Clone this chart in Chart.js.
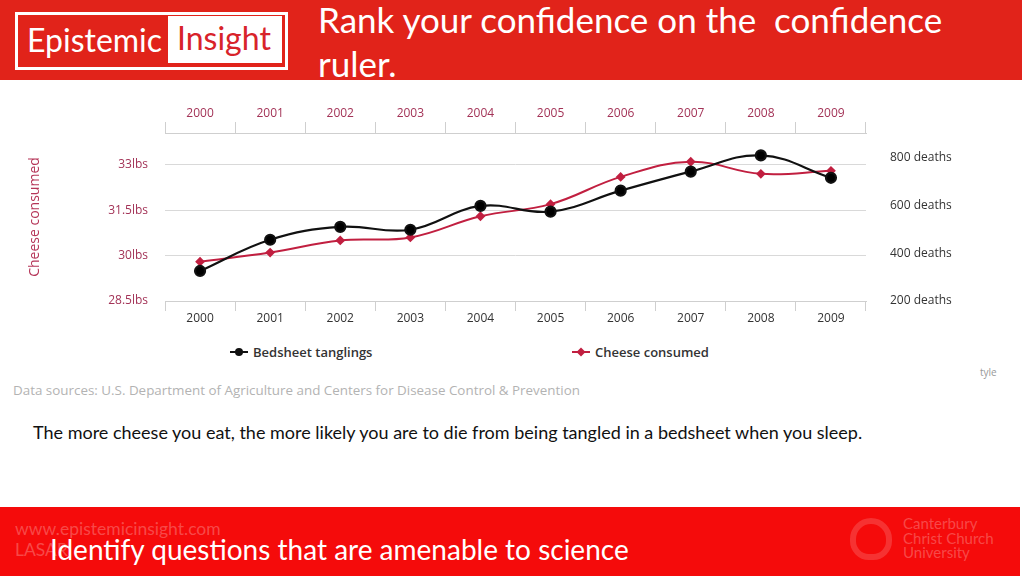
<!DOCTYPE html>
<html>
<head>
<meta charset="utf-8">
<script src="https://cdn.jsdelivr.net/npm/chart.js@4.4.1/dist/chart.umd.min.js"></script>
<style>
  html, body { margin: 0; padding: 0; }
  body { width: 1024px; height: 576px; position: relative; overflow: hidden; background: #fff; font-family: Lato, "Open Sans", sans-serif; }
  .header { position: absolute; left: 0; top: 0; width: 1022px; height: 80px; background: #e1231a; }
  .logo { position: absolute; left: 15px; top: 12px; width: 267px; height: 52px; border: 3px solid #fff; }
  .logo .ep { position: absolute; left: 9px; top: 5px; font-size: 32px; color: #fff; line-height: 40px; }
  .logo .ins { position: absolute; left: 150px; top: 1px; width: 114px; height: 47px; background: #fff; color: #d8232a; font-size: 32px; line-height: 44px; text-indent: 9px; }
  .title { position: absolute; left: 318px; top: -3px; width: 680px; color: #fff; font-size: 35px; line-height: 44px; }
  .chartbox { position: absolute; left: 0; top: 85px; width: 1000px; height: 250px; }
  .legend { position: absolute; left: 230px; top: 343px; display: grid; grid-template-columns: 342px auto; font-family: "Open Sans", sans-serif; font-size: 13px; font-weight: 600; color: #333; }
  .legend .item { display: flex; align-items: center; height: 18px; }
  .legend .mk { position: relative; width: 18px; height: 2px; margin-right: 5px; }
  .legend .dot { position: absolute; left: 5px; top: -3px; width: 8px; height: 8px; }
  .sources { position: absolute; left: 13px; top: 381px; font-family: "Open Sans", sans-serif; font-size: 13.4px; color: #b3b3b3; }
  .tyle { position: absolute; left: 980px; top: 365px; font-family: "Open Sans", sans-serif; font-size: 10px; color: #999; }
  .caption { position: absolute; left: 33px; top: 421px; font-size: 18px; color: #111; }
  .footer { position: absolute; left: 0; top: 507px; width: 1020px; height: 69px; background: #f50b0b; }
  .faint { position: absolute; color: rgba(255,255,255,0.26); }
  .foottext { position: absolute; left: 50px; top: 532px; font-size: 28px; color: #fff; }
</style>
</head>
<body>
<div class="header">
  <div class="logo"><span class="ep">Epistemic</span><span class="ins">Insight</span></div>
  <div class="title">Rank your confidence on the&nbsp; confidence ruler.</div>
</div>

<div class="chartbox"><canvas id="chart"></canvas></div>
<div class="legend" id="legend"></div>
<div class="sources">Data sources: U.S. Department of Agriculture and Centers for Disease Control &amp; Prevention</div>
<div class="tyle">tyle</div>

<div class="caption">The more cheese you eat, the more likely you are to die from being tangled in a bedsheet when you sleep.</div>

<div class="footer"></div>
<div class="faint" style="left:15px; top:518px; font-size:17.5px;">www.epistemicinsight.com</div>
<div class="faint" style="left:15px; top:539px; font-size:17.5px;">LASAR</div>
<div class="faint" style="left:903px; top:516px; font-size:15px; line-height:14.5px;">Canterbury<br>Christ Church<br>University</div>
<div class="faint" style="left:850px; top:518px; width:42px; height:42px; border:6px solid rgba(255,255,255,0.16); border-radius:50% 50% 45% 45%; box-sizing:border-box;"></div>
<div class="foottext">Identify questions that are amenable to science</div>

<script>
const years = ["2000", "2001", "2002", "2003", "2004", "2005", "2006", "2007", "2008", "2009"];
const bedsheetDeaths = [326, 457, 511, 499, 599, 575, 663, 743, 811, 717];
const cheeseLbs = [29.8, 30.1, 30.5, 30.6, 31.3, 31.7, 32.6, 33.1, 32.7, 32.8];
const lbsTicks = [28.5, 30, 31.5, 33];
const deathTicks = [200, 400, 600, 800];

const RED = "#c11f40";
const LABEL_RED = "#a33357";
const GRID = "#d9d9d9";

Chart.defaults.font.family = "'Open Sans', sans-serif";
Chart.defaults.font.size = 12;

/* ---------- HTML LEGEND ---------- */

const htmlLegend = {
    id: "htmlLegend",
    afterUpdate(chart) {
        const box = document.getElementById("legend");
        box.innerHTML = "";
        chart.data.datasets.forEach(ds => {
            const item = document.createElement("div");
            item.className = "item";
            const round = ds.pointStyle === "circle";
            item.innerHTML = `
                <span class="mk" style="background:${ds.borderColor}">
                    <span class="dot" style="background:${ds.borderColor};${round ? "border-radius:50%" : "transform:rotate(45deg) scale(0.8)"}"></span>
                </span>
                <span>${ds.label}</span>`;
            box.appendChild(item);
        });
    }
};

/* ---------- CHART ---------- */

new Chart(document.getElementById("chart"), {
    type: "line",
    data: {
        labels: years,
        datasets: [
            {
                label: "Bedsheet tanglings",
                data: bedsheetDeaths,
                yAxisID: "deaths",
                borderColor: "#111111",
                backgroundColor: "#000000",
                borderWidth: 2.2,
                pointStyle: "circle",
                pointRadius: 5,
                tension: 0.4
            },
            {
                label: "Cheese consumed",
                data: cheeseLbs,
                yAxisID: "lbs",
                borderColor: RED,
                backgroundColor: RED,
                borderWidth: 2,
                pointStyle: "rectRot",
                pointRadius: 3.5,
                tension: 0.4
            }
        ]
    },
    options: {
        responsive: true,
        maintainAspectRatio: false,
        animation: false,
        layout: { padding: 0 },
        plugins: {
            legend: { display: false },
            tooltip: { enabled: false }
        },
        scales: {
            x: {
                position: "bottom",
                offset: true,
                grid: { offset: true, drawOnChartArea: false, tickLength: 10, tickColor: "#cfcfcf" },
                border: { color: "#cfcfcf" },
                ticks: { color: "#333", padding: 0, maxRotation: 0, autoSkip: false },
                afterFit: s => { s.height = 34; }
            },
            x2: {
                type: "category",
                labels: years,
                position: "top",
                offset: true,
                grid: { offset: true, drawOnChartArea: false, tickLength: 11, tickColor: "#cfcfcf" },
                border: { color: "#cfcfcf" },
                ticks: { color: LABEL_RED, padding: 1, maxRotation: 0, autoSkip: false },
                afterFit: s => { s.height = 48; }
            },
            lbs: {
                type: "linear",
                position: "left",
                min: 28.5,
                max: 34.05,
                afterBuildTicks: s => { s.ticks = lbsTicks.map(v => ({ value: v })); },
                grid: { color: GRID, drawTicks: false },
                border: { display: false },
                ticks: { color: LABEL_RED, padding: 17, callback: v => v + "lbs" },
                title: {
                    display: true,
                    text: "Cheese consumed",
                    color: "#b53558",
                    font: { size: 14 },
                    padding: { top: 27 }
                },
                afterFit: s => { s.width = 165; }
            },
            deaths: {
                type: "linear",
                position: "right",
                min: 200,
                max: 905,
                afterBuildTicks: s => { s.ticks = deathTicks.map(v => ({ value: v })); },
                grid: { display: false },
                border: { display: false },
                ticks: { color: "#333", padding: 16, callback: v => v + " deaths" },
                afterFit: s => { s.width = 134; }
            }
        }
    },
    plugins: [htmlLegend]
});
</script>
</body>
</html>
